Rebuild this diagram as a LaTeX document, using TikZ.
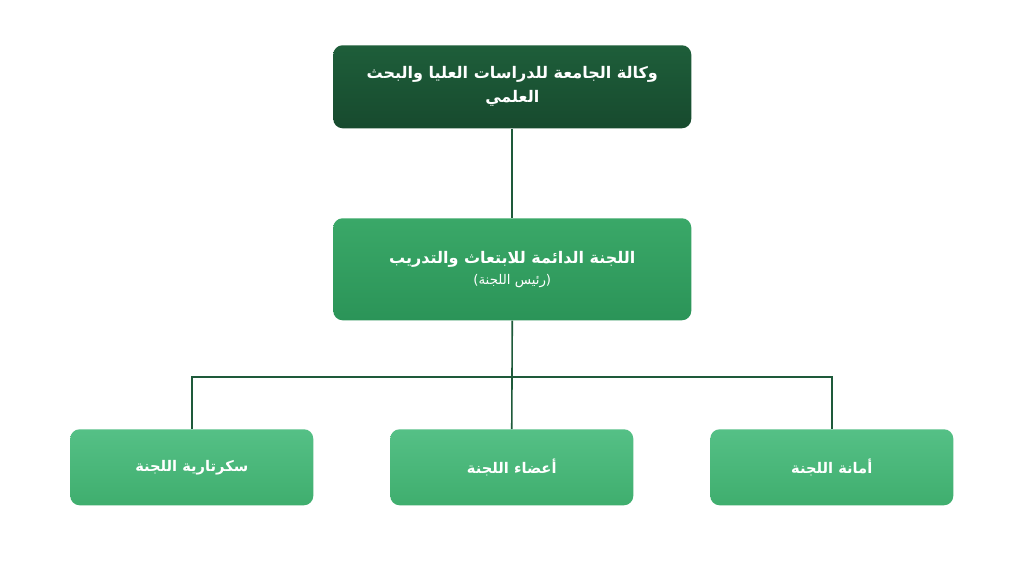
\documentclass[tikz,border=0pt]{standalone}
\usepackage{fontspec}
\newfontfamily\arfont[Script=Arabic]{DejaVu Sans}
\TeXXeTstate=1
\newcommand{\ar}[1]{\beginR #1\endR}
\definecolor{topA}{HTML}{1E5E3A}
\definecolor{topB}{HTML}{174A2E}
\definecolor{midA}{HTML}{3AA868}
\definecolor{midB}{HTML}{2B9458}
\definecolor{botA}{HTML}{55C086}
\definecolor{botB}{HTML}{3FAE6E}
\definecolor{ln}{HTML}{1E5A3A}
\begin{document}
\begin{tikzpicture}[x=0.75pt,y=-0.75pt,
 box/.style={rounded corners=7pt,text=white,font=\arfont\bfseries,align=center,inner sep=0pt,anchor=north west},
 conn/.style={draw=ln,line width=1.2pt}]
\useasboundingbox[fill=white] (0,0) rectangle (1024,576);
\node[box,minimum width=358*0.75pt,minimum height=83*0.75pt,top color=topA,bottom color=topB,font=\arfont\bfseries\fontsize{12}{18}\selectfont] (t) at (333,45) {\ar{وكالة الجامعة للدراسات العليا والبحث}\\\ar{العلمي}};
\node[box,minimum width=358*0.75pt,minimum height=102*0.75pt,top color=midA,bottom color=midB] (m) at (333,218) {{\fontsize{12}{18}\selectfont\ar{اللجنة الدائمة للابتعاث والتدريب}}\\[4pt]{\fontsize{10}{12}\selectfont\mdseries\ar{(رئيس اللجنة)}}};
\foreach \n/\x/\t in {a/70/{سكرتارية اللجنة},b/390/{أعضاء اللجنة},c/710/{أمانة اللجنة}}{
 \node[box,minimum width=243*0.75pt,minimum height=76*0.75pt,top color=botA,bottom color=botB,font=\arfont\bfseries\fontsize{11}{14}\selectfont] (\n) at (\x,429) {\ar{\t}};
}
\coordinate (j) at (512,377);
\draw[conn] (t.south) -- (m.north);
\draw[conn] (m.south) -- (j);
\draw[conn] (a.north) |- (j) -| (c.north);
\draw[conn] (j) -- (b.north);
\end{tikzpicture}
\end{document}
